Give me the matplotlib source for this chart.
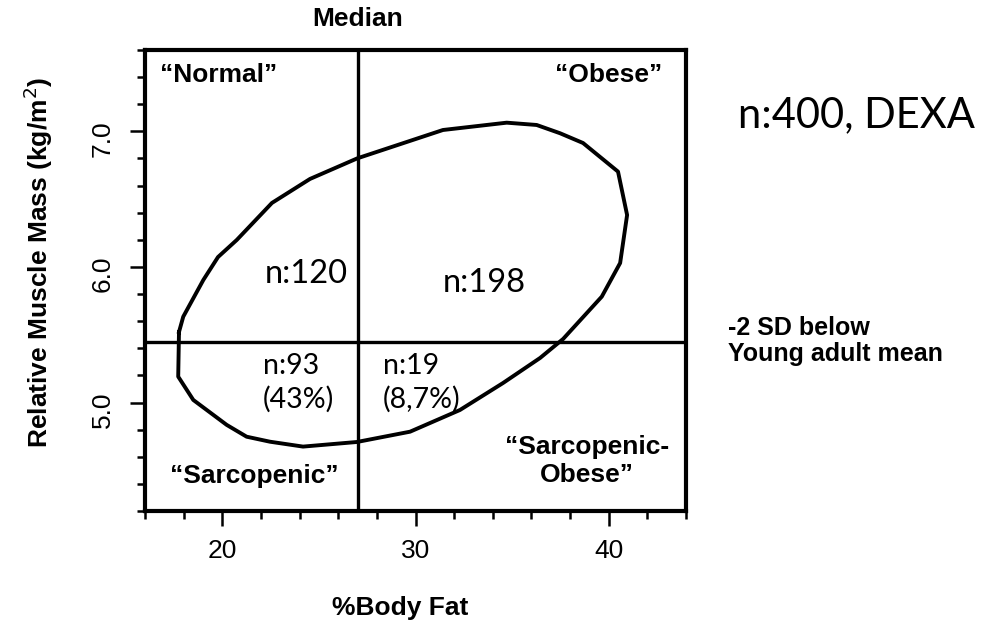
import numpy as np
import matplotlib
matplotlib.use("Agg")
import matplotlib.pyplot as plt
from matplotlib.ticker import MultipleLocator, FixedLocator, FormatStrFormatter
import matplotlib.transforms as mtransforms

# 95% contour of the sample (x: %body fat, y: relative muscle mass)
contour_fat = [17.76, 17.98, 19.02, 19.78, 20.75, 22.57, 24.54, 26.99, 31.42, 34.72,
               36.27, 37.48, 38.67, 40.48, 40.95, 40.59, 39.64, 37.64, 36.45, 34.53,
               32.30, 29.72, 26.97, 24.18, 22.47, 21.26, 20.23, 18.50, 17.72]
contour_mm = [5.52, 5.633, 5.904, 6.073, 6.199, 6.472, 6.649, 6.801, 7.01, 7.064,
              7.047, 6.986, 6.914, 6.703, 6.383, 6.029, 5.781, 5.469, 5.329, 5.144,
              4.945, 4.785, 4.709, 4.675, 4.711, 4.748, 4.835, 5.019, 5.191]

median_fat = 27.0
cutoff_mm = 5.45

quadrant_names = ["\u201cNormal\u201d", "\u201cObese\u201d", "\u201cSarcopenic\u201d",
                  "\u201cSarcopenic-\nObese\u201d"]
counts_top = ["n:120", "n:198"]
counts_bottom = ["n:93\n(43%)", "n:19\n(8,7%)"]

arial = "Liberation Sans"
calibri = ["Lato", "DejaVu Sans"]

fig = plt.figure(figsize=(10.04, 6.25), dpi=100)
ax = fig.add_axes([0.1444, 0.1824, 0.5389, 0.7376])

ax.plot(contour_fat + contour_fat[:1], contour_mm + contour_mm[:1],
        color="black", lw=2.8, solid_joinstyle="round")
ax.axvline(median_fat, color="black", lw=2.4)
ax.axhline(cutoff_mm, color="black", lw=2.4)

ax.set_xlim(16, 44)
ax.set_ylim(4.2, 7.6)
ax.xaxis.set_major_locator(FixedLocator([20, 30, 40]))
ax.xaxis.set_minor_locator(MultipleLocator(2))
ax.yaxis.set_major_locator(FixedLocator([5.0, 6.0, 7.0]))
ax.yaxis.set_minor_locator(MultipleLocator(0.2))
ax.yaxis.set_major_formatter(FormatStrFormatter("%.1f"))

for sp in ax.spines.values():
    sp.set_linewidth(3.0)
ax.tick_params(which="both", direction="out", width=1.8, colors="black")
ax.tick_params(which="major", length=10.5)
ax.tick_params(which="minor", length=5.5)
ax.tick_params(axis="x", which="major", pad=10, labelsize=19)
ax.tick_params(axis="y", which="major", pad=11, labelsize=19, labelrotation=90)
for lab in ax.get_xticklabels() + ax.get_yticklabels():
    lab.set_fontfamily(arial)
shift = mtransforms.ScaledTranslation(0, -0.07, fig.dpi_scale_trans)
for lab in ax.get_yticklabels():
    lab.set_verticalalignment("center")
    lab.set_transform(lab.get_transform() + shift)

qfont = dict(family=arial, fontsize=19, fontweight="bold")
ax.text(16.8, 7.415, quadrant_names[0], ha="left", va="center", **qfont)
ax.text(42.75, 7.415, quadrant_names[1], ha="right", va="center", **qfont)
ax.text(21.64, 4.458, quadrant_names[2], ha="center", va="center", **qfont)
ax.text(38.88, 4.57, quadrant_names[3], ha="center", va="center",
        linespacing=1.2, **qfont)

ax.text(22.21, 5.882, counts_top[0], ha="left", va="baseline",
        family=calibri, fontsize=23.5)
ax.text(31.42, 5.815, counts_top[1], ha="left", va="baseline",
        family=calibri, fontsize=23.5)
lift = ax.transData + mtransforms.ScaledTranslation(0, 0.2, fig.dpi_scale_trans)
ax.text(22.11, 5.218, counts_bottom[0], ha="left", va="top",
        family=calibri, fontsize=20.5, linespacing=1.3, transform=lift)
ax.text(28.32, 5.218, counts_bottom[1], ha="left", va="top",
        family=calibri, fontsize=20.5, linespacing=1.3, transform=lift)

ax.text(median_fat, 1.0 + 31 / 461, "Median", transform=ax.get_xaxis_transform(),
        ha="center", va="center", fontsize=19, fontweight="bold", family=arial,
        clip_on=False)

fig.text(0.7248, 1 - 341 / 625, "-2 SD below\nYoung adult mean", ha="left",
         va="center", family=arial, fontsize=18, fontweight="bold", linespacing=1.15)
fig.text(738 / 1004, 1 - 127 / 625, "n:400, DEXA", ha="left", va="baseline",
         family=calibri, fontsize=30)

fig.text(400 / 1004, 1 - 608 / 625, "%Body Fat", ha="center", va="center",
         family=arial, fontsize=19, fontweight="bold")
fig.text(38 / 1004, 1 - 262 / 625, "Relative Muscle Mass (kg/m$^2$)", rotation=90,
         ha="center", va="center", family=arial, fontsize=19, fontweight="bold")

fig.savefig("out.png", dpi=100)
